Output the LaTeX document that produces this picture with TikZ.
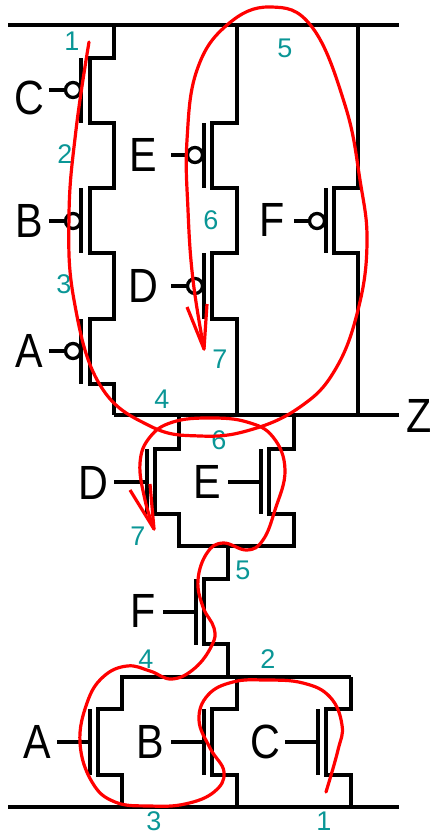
\documentclass[tikz,border=0pt]{standalone}
\usepackage{fontspec}
\setmainfont{Liberation Sans}
\newfontfamily\sigfont[FakeStretch=0.86]{Liberation Sans}
\begin{document}
\begin{tikzpicture}[x=1pt,y=-1pt,
  wire/.style={draw=black,line width=3.3pt,line join=miter},
  bubble/.style={draw=black,line width=3.3pt,circle,inner sep=0pt,minimum size=15pt},
  sig/.style={font=\sigfont\fontsize{48}{48}\selectfont,inner sep=0pt,text=black},
  num/.style={font=\fontsize{27}{27}\selectfont,inner sep=0pt,text=numteal},
  trace/.style={draw=tracered,line width=3.2pt,line cap=round,line join=round}
]
\definecolor{numteal}{RGB}{10,150,150}
\definecolor{tracered}{RGB}{255,0,0}
\useasboundingbox (0,0) rectangle (434,835);
% rails
\draw[wire] (8,25) -- (399,25);
\draw[wire] (114,415) -- (399,415);
\draw[wire] (8,807) -- (399,807);
% upper network, left column
\draw[wire] (114,25) -- (114,58) -- (90,58) -- (90,123) -- (114,123) -- (114,188) -- (90,188) -- (90,253) -- (114,253) -- (114,319) -- (90,319) -- (90,384) -- (114,384) -- (114,415);
\foreach \ya/\yb in {58/123,188/253,319/384} \draw[wire] (81,\ya) -- (81,\yb);
\foreach \n/\y in {c/90,b/221,a/351} {
  \node[bubble] (bub\n) at (73,\y) {};
  \draw[wire] (49,\y) -- (bub\n.west);
}
% upper network, middle column
\draw[wire] (237,25) -- (237,123) -- (212,123) -- (212,188) -- (237,188) -- (237,253) -- (212,253) -- (212,319) -- (237,319) -- (237,415);
\foreach \ya/\yb in {123/188,253/319} \draw[wire] (204,\ya) -- (204,\yb);
\foreach \n/\y in {e/155,d/286} {
  \node[bubble] (bub\n) at (195,\y) {};
  \draw[wire] (171,\y) -- (bub\n.west);
}
% upper network, right column
\draw[wire] (358,25) -- (358,188) -- (334,188) -- (334,253) -- (358,253) -- (358,415);
\draw[wire] (326,188) -- (326,253);
\node[bubble] (bubf) at (317,221) {};
\draw[wire] (294,221) -- (bubf.west);
% lower network D || E
\draw[wire] (179,415) -- (179,449) -- (155,449) -- (155,514) -- (179,514) -- (179,546) -- (294,546) -- (294,514) -- (269,514) -- (269,449) -- (294,449) -- (294,415);
\draw[wire] (147,449) -- (147,514);
\draw[wire] (261,449) -- (261,514);
\draw[wire] (114,482) -- (147,482);
\draw[wire] (228,482) -- (261,482);
% F
\draw[wire] (228,546) -- (228,579) -- (204,579) -- (204,644) -- (228,644) -- (228,677);
\draw[wire] (196,579) -- (196,645);
\draw[wire] (163,612) -- (196,612);
% A || B || C
\draw[wire] (351,677) -- (122,677) -- (122,709) -- (98,709) -- (98,775) -- (122,775) -- (122,807);
\draw[wire] (237,677) -- (237,709) -- (212,709) -- (212,775) -- (237,775) -- (237,807);
\draw[wire] (351,677) -- (351,709) -- (326,709) -- (326,775) -- (351,775) -- (351,807);
\foreach \x in {90,204,318} {
  \draw[wire] (\x,709) -- (\x,775);
  \draw[wire] ({\x-33},742) -- (\x,742);
}
% signal names
\node[sig] (lc) at (29,98) {C};
\node[sig] (le) at (143,155) {E};
\node[sig] (lb) at (29,221) {B};
\node[sig] (lf) at (272,220) {F};
\node[sig] (ld) at (143,286) {D};
\node[sig] (la) at (29,351) {A};
\node[sig] (lz) at (419,416) {Z};
\node[sig] (ld2) at (93,483) {D};
\node[sig] (le2) at (207,482) {E};
\node[sig] (lf2) at (143,611) {F};
\node[sig] (la2) at (37,742) {A};
\node[sig] (lb2) at (150,742) {B};
\node[sig] (lc2) at (265,742) {C};
% numbers
\node[num] (n1) at (72,41) {1};
\node[num] (n2) at (65,154) {2};
\node[num] (n3) at (64,284) {3};
\node[num] (n4) at (162,399) {4};
\node[num] (n5) at (285,48) {5};
\node[num] (n6) at (211,220) {6};
\node[num] (n7) at (220,359) {7};
\node[num] (m6) at (219,440) {6};
\node[num] (m7) at (138,536) {7};
\node[num] (m5) at (243,570) {5};
\node[num] (m4) at (146,659) {4};
\node[num] (m2) at (268,659) {2};
\node[num] (m3) at (154,821) {3};
\node[num] (m1) at (324,821) {1};
% red traces
\draw[trace] plot[smooth,tension=0.7] coordinates {
 (89,42) (76,130) (69,215) (74,300) (100,385) (150,426) (200,436) (250,430) (300,407) (335,370) (358,310) (367,243) (360,180) (345,105) (312,27) (270,7) (227,25) (197,70) (187,140) (188,210) (193,280) (204,349)};
\draw[trace,line cap=butt] (187,307) -- (204,349) -- (207,304);
\draw[trace] plot[smooth,tension=0.7] coordinates {
 (326,792) (338,750) (342,725) (330,697) (303,683) (265,680) (233,682) (208,695) (199,720) (210,748) (224,772) (214,792) (185,804) (150,806) (115,802) (92,782) (80,743) (87,703) (103,677) (127,666) (150,671) (172,679) (195,668) (212,645) (214,628) (203,607) (198,580) (207,553) (223,543) (247,550) (263,540) (275,510) (285,470) (273,437) (247,422) (210,418) (173,422) (150,437) (140,463) (145,500) (154,529)};
\draw[trace,line cap=butt] (130,490) -- (154,529) -- (150,484);
\end{tikzpicture}
\end{document}
